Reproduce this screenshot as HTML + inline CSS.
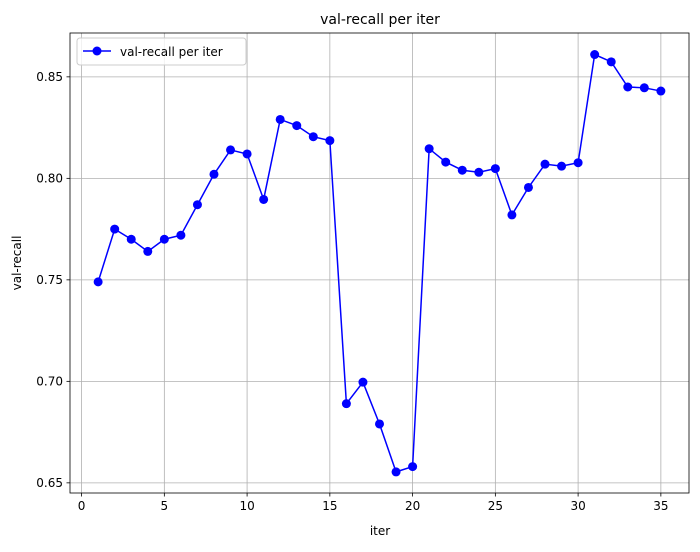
<!DOCTYPE html>
<html><head><meta charset="utf-8"><style>
body{margin:0;background:#fff;font-family:"Liberation Sans","DejaVu Sans",sans-serif;}
svg text{font-family:"DejaVu Sans","Liberation Sans",sans-serif;}
</style></head><body>
<svg id="chart" width="700" height="547" xmlns="http://www.w3.org/2000/svg">
<rect width="700" height="547" fill="#fff"/>
<g id="grid"></g><g id="axes"></g><g id="series"></g>
<text x="380" y="24" font-size="14" text-anchor="middle">val-recall per iter</text>
<text x="380" y="535" font-size="12" text-anchor="middle">iter</text>
<text x="21" y="263" font-size="12" text-anchor="middle" transform="rotate(-90 21 263)">val-recall</text>
<g>
<rect x="77" y="38" width="169" height="27" rx="3" fill="#fff" fill-opacity="0.8" stroke="#ccc"/>
<line x1="83" y1="51" x2="111" y2="51" stroke="#0000ff" stroke-width="1.5"/>
<circle cx="97" cy="51" r="4.5" fill="#0000ff"/>
<text x="120" y="56" font-size="12">val-recall per iter</text>
</g>
</svg>
<script>
const iters=[1,2,3,4,5,6,7,8,9,10,11,12,13,14,15,16,17,18,19,20,21,22,23,24,25,26,27,28,29,30,31,32,33,34,35];
const recall=[0.749,0.775,0.770,0.764,0.770,0.772,0.787,0.802,0.814,0.812,0.7896,0.829,0.826,0.8205,0.8186,0.689,0.6996,0.679,0.6554,0.658,0.8146,0.808,0.804,0.803,0.8048,0.782,0.7955,0.807,0.806,0.8077,0.861,0.8574,0.845,0.8446,0.843];
const xTicks=[0,5,10,15,20,25,30,35];
const yTicks=[0.65,0.70,0.75,0.80,0.85];
const L=70,R=689,T=33,B=493;
const xmin=-0.7,xmax=36.7,ymin=0.645,ymax=0.8716;
const sx=v=>L+(v-xmin)/(xmax-xmin)*(R-L);
const sy=v=>B-(v-ymin)/(ymax-ymin)*(B-T);
const NS="http://www.w3.org/2000/svg";
function mk(t,a,p){const e=document.createElementNS(NS,t);for(const k in a)e.setAttribute(k,a[k]);p.appendChild(e);return e;}
const grid=document.getElementById('grid'),axes=document.getElementById('axes'),ser=document.getElementById('series');
xTicks.forEach(t=>{const x=sx(t);
 const g=mk('line',{x1:x,x2:x,y1:T,y2:B,stroke:'#b0b0b0','stroke-width':0.8},grid);
 
 
 mk('line',{x1:x,x2:x,y1:B,y2:B+3.5,stroke:'#000','stroke-width':0.8},axes);
 const tx=mk('text',{x:x,y:B+17,'font-size':12,'text-anchor':'middle'},axes);tx.textContent=t;
 
 });
yTicks.forEach(t=>{const y=sy(t);
 const g=mk('line',{x1:L,x2:R,y1:y,y2:y,stroke:'#b0b0b0','stroke-width':0.8},grid);
 
 
 mk('line',{x1:L-3.5,x2:L,y1:y,y2:y,stroke:'#000','stroke-width':0.8},axes);
 const tx=mk('text',{x:L-7,y:y+4,'font-size':12,'text-anchor':'end'},axes);tx.textContent=t.toFixed(2);
 
 });
const fr=mk('rect',{x:L,y:T,width:R-L,height:B-T,fill:'none',stroke:'#000','stroke-width':0.8},axes);


const pl=mk('polyline',{points:iters.map((v,i)=>sx(v)+','+sy(recall[i])).join(' '),fill:'none',stroke:'#0000ff','stroke-width':1.5},ser);


iters.forEach((v,i)=>{const c=mk('circle',{cx:sx(v),cy:sy(recall[i]),r:4.5,fill:'#0000ff'},ser);
 
 });
</script>
</body></html>
